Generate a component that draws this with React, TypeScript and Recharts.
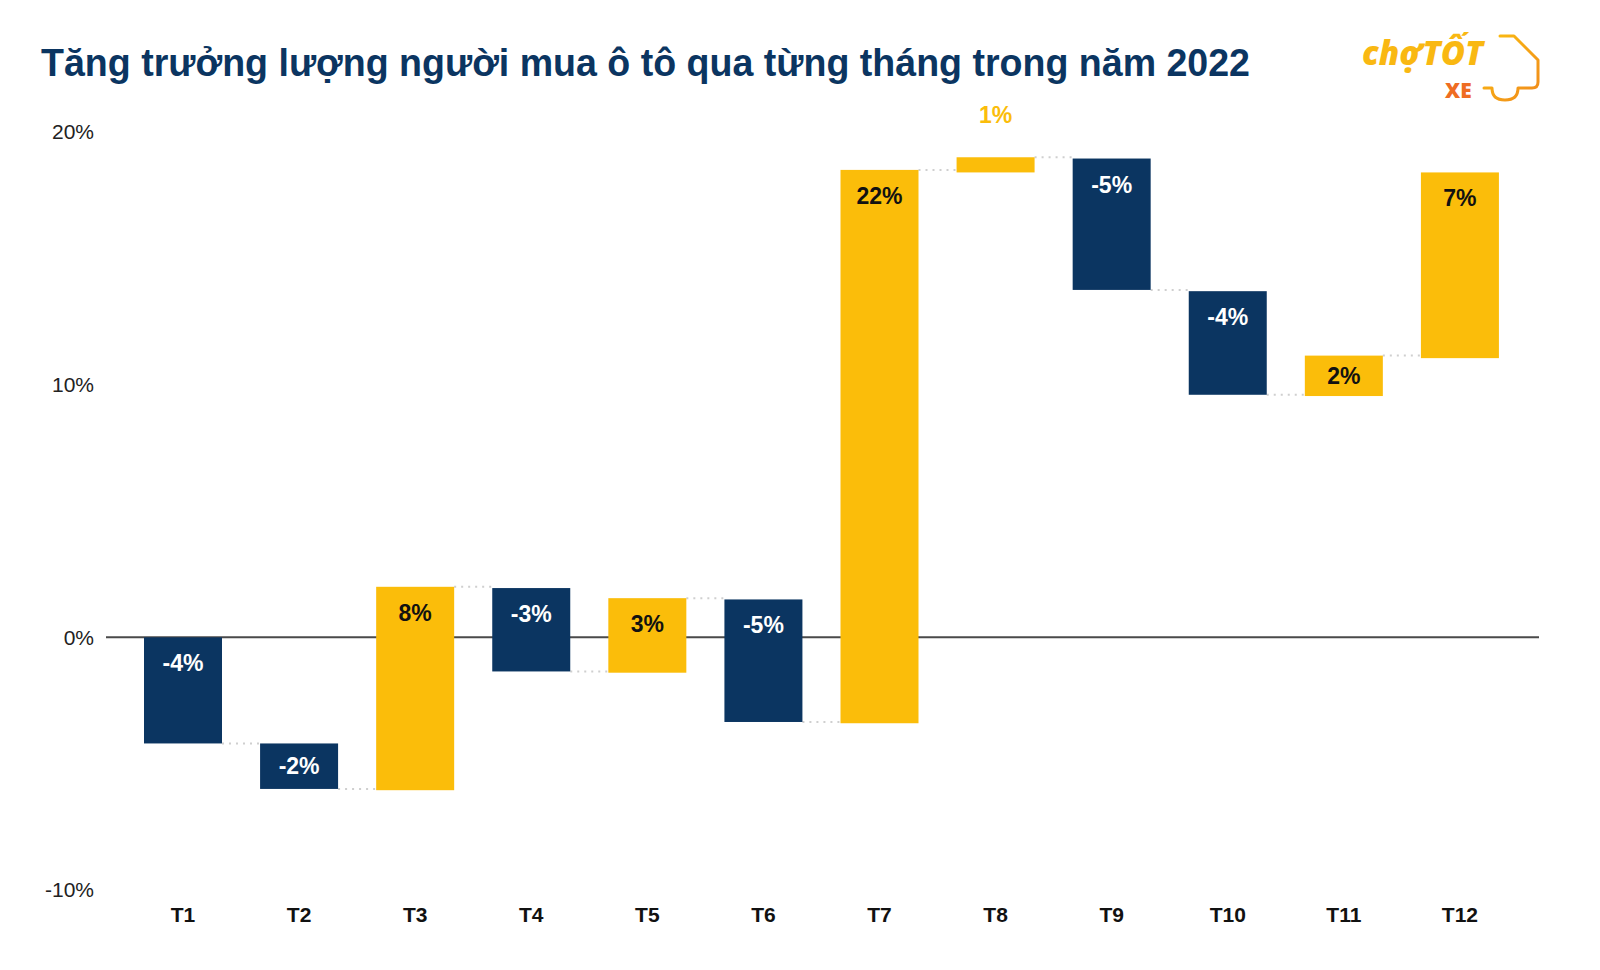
import { BarChart, Bar, XAxis, YAxis, CartesianGrid } from 'recharts';

// tháng
const months = ['T1', 'T2', 'T3', 'T4', 'T5', 'T6', 'T7', 'T8', 'T9', 'T10', 'T11', 'T12'];
// nhãn tăng trưởng (%)
const growth = [-4, -2, 8, -3, 3, -5, 22, 1, -5, -4, 2, 7];
// đáy / đỉnh của từng cột (đọc từ trục)
const lows = [-4.2, -6.0, -6.05, -1.35, -1.4, -3.35, -3.4, 18.4, 13.75, 9.6, 9.55, 11.05];
const highs = [0, -4.2, 2.0, 1.95, 1.55, 1.5, 18.5, 19.0, 18.95, 13.7, 11.15, 18.4];
const yTicks = [-10, 0, 10, 20];

const data = months.map((m, i) => ({
  month: m,
  range: [lows[i], highs[i]],
  growth: growth[i],
}));

const NAVY = '#0b3561';
const YELLOW = '#fbbd0a';
const GAP = 38;

function StepBar(props: any) {
  const { x, y, width, height, payload, index } = props;
  const top = Math.min(y, y + height);
  const h = Math.abs(height);
  const up = payload.growth > 0;
  const fill = up ? YELLOW : NAVY;
  const endY = up ? top : top + h;
  const small = h < 30;
  const labelY = small ? top - 42 : top + Math.min(26, h / 2);
  return (
    <g>
      {index < months.length - 1 && (
        <line
          x1={x + width}
          x2={x + width + GAP}
          y1={endY}
          y2={endY}
          stroke="#cfcfcf"
          strokeWidth={2}
          strokeDasharray="2 5"
        />
      )}
      <rect x={x} y={top} width={width} height={h} fill={fill} />
      <text
        x={x + width / 2}
        y={labelY}
        textAnchor="middle"
        dominantBaseline="central"
        fill={small ? YELLOW : up ? '#111111' : '#ffffff'}
        fontSize={23}
        fontWeight={700}
        fontFamily="Liberation Sans, Arial, sans-serif"
      >
        {payload.growth}%
      </text>
    </g>
  );
}

function Logo() {
  return (
    <g>
      <defs>
        <linearGradient id="logoGrad" x1="0" y1="0" x2="1" y2="1">
          <stop offset="0%" stopColor="#fbbf10" />
          <stop offset="100%" stopColor="#f08a1c" />
        </linearGradient>
      </defs>
      <text
        x={1362}
        y={65}
        fontSize={33}
        fontWeight={800}
        fontStyle="italic"
        fontFamily="Open Sans, sans-serif"
        fill="#f9b812"
      >
        chợTỐT
      </text>
      <text
        x={1445}
        y={98}
        fontSize={21}
        fontWeight={800}
        fontFamily="Open Sans, sans-serif"
        fill="#ef6d22"
      >
        XE
      </text>
      <path
        d="M1500 36 L1514 36 L1538 60 L1538 82 Q1538 88 1532 88 L1518 88 Q1518 100 1505 100 Q1492 100 1492 88 L1484 88"
        fill="none"
        stroke="url(#logoGrad)"
        strokeWidth={3}
        strokeLinecap="round"
        strokeLinejoin="round"
      />
    </g>
  );
}

export default function App() {
  return (
    <div style={{ position: 'absolute', left: 0, top: 0, width: 1600, height: 970, background: '#fff' }}>
      <BarChart
        width={1600}
        height={970}
        data={data}
        margin={{ top: 132, right: 61, left: 0, bottom: 40 }}
      >
        <CartesianGrid vertical={false} horizontalValues={[0]} stroke="#4a4a4a" strokeWidth={2} />
        <XAxis
          dataKey="month"
          axisLine={false}
          tickLine={false}
          tickSize={0}
          tickMargin={17}
          height={40}
          padding={{ left: 19, right: 21 }}
          tick={{ fill: '#111', fontSize: 21, fontWeight: 700, fontFamily: 'Liberation Sans, Arial, sans-serif' }}
        />
        <YAxis
          domain={[-10, 20]}
          ticks={yTicks}
          width={106}
          axisLine={false}
          tickLine={false}
          tickSize={0}
          tickMargin={12}
          tickFormatter={(v: number) => `${v}%`}
          tick={{ fill: '#222', fontSize: 21, fontFamily: 'Liberation Sans, Arial, sans-serif' }}
        />
        <Bar dataKey="range" barSize={78} shape={StepBar} isAnimationActive={false} />
      </BarChart>
      <svg
        width={1600}
        height={130}
        style={{ position: 'absolute', left: 0, top: 0, pointerEvents: 'none' }}
      >
        <text
          x={41}
          y={76}
          fontSize={38}
          fontWeight={700}
          fontFamily="Liberation Sans, Arial, sans-serif"
          fill={NAVY}
          textLength={1209}
          lengthAdjust="spacingAndGlyphs"
        >
          Tăng trưởng lượng người mua ô tô qua từng tháng trong năm 2022
        </text>
        <Logo />
      </svg>
    </div>
  );
}
